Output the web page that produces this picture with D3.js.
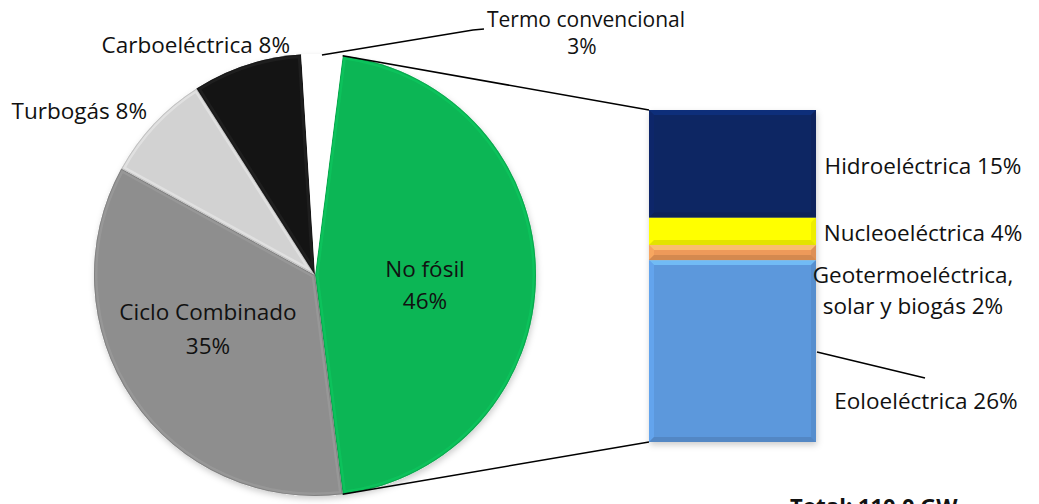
<!DOCTYPE html>
<html><head><meta charset="utf-8">
<script src="https://cdn.jsdelivr.net/npm/d3@7"></script>
<style>
html,body{margin:0;padding:0;background:#fff;overflow:hidden}
svg text{font-family:"Open Sans",Lato,sans-serif;fill:#111}
</style></head>
<body><svg id="c" width="1039" height="504"></svg>
<script>
// ---- data ----
const pieNames = ["No fósil","Ciclo Combinado","Turbogás","Carboeléctrica","Termo convencional"];
const pieValues = [46, 35, 8, 8, 3];
const pieColors = ["#0cb655","#8e8e8e","#d2d2d2","#141414","#ffffff"];
const barNames = ["Eoloeléctrica","Geotermoeléctrica, solar y biogás","Nucleoeléctrica","Hidroeléctrica"];
const barValues = [25.2, 2.1, 3.8, 14.9];
const barLabels = ["Eoloeléctrica 26%","Geotermoeléctrica,|solar y biogás 2%","Nucleoeléctrica 4%","Hidroeléctrica 15%"];
const barColors = ["#5c98dc","#ee9a5a","#ffff00","#0a2563"];
const totalLabel = "Total: 110.0 GW";

const svg = d3.select("#c");
const cx = 315, cy = 275, R = 221;
const share0 = pieValues[0] / d3.sum(pieValues);
const pie = d3.pie().sort(null).value(d => d)
  .startAngle(Math.PI/2 - share0*Math.PI)
  .endAngle(Math.PI/2 - share0*Math.PI + 2*Math.PI);
const arcs = pie(pieValues);
const arc = d3.arc().innerRadius(0).outerRadius(R);

const defs = svg.append("defs");
const fsh = defs.append("filter").attr("id","sh").attr("x","-10%").attr("y","-10%").attr("width","130%").attr("height","130%");
fsh.append("feDropShadow").attr("dx",1).attr("dy",3).attr("stdDeviation",3).attr("flood-color","#000").attr("flood-opacity",0.2);

const gp = svg.append("g").attr("transform",`translate(${cx},${cy})`);
gp.append("path").attr("d", d3.arc().innerRadius(0).outerRadius(R)({startAngle:0,endAngle:2*Math.PI}))
  .attr("fill","#fff").attr("filter","url(#sh)");
arcs.forEach((a,i) => {
  const id = "clip"+i;
  defs.append("clipPath").attr("id",id).append("path").attr("d",arc(a));
  const g = gp.append("g");
  g.append("path").attr("d",arc(a)).attr("fill",pieColors[i]);
  if (i === 4) return;
  const c = d3.color(pieColors[i]);
  g.append("path").attr("d",arc(a)).attr("clip-path",`url(#${id})`)
    .attr("fill","none").attr("stroke", c.brighter(i===3?2.5:0.5)).attr("stroke-opacity",0.35).attr("stroke-width",7);
  g.append("path").attr("d",arc(a)).attr("clip-path",`url(#${id})`)
    .attr("fill","none").attr("stroke", c.darker(0.7)).attr("stroke-opacity",0.55).attr("stroke-width",2);
});

// bar
const bx0 = 649, bx1 = 816;
const y = d3.scaleLinear().domain([0, d3.sum(barValues)]).range([442, 110]);
let acc = 0;
const gb = svg.append("g").attr("filter","url(#sh)");
const segs = barValues.map((v,i) => { const s = {i, y0: y(acc), y1: y(acc+v)}; acc += v; return s; });
segs.forEach(s => {
  const col = d3.color(barColors[s.i]);
  const h = s.y0 - s.y1;
  const bw = Math.min(5, h/3);
  gb.append("rect").attr("x",bx0).attr("y",s.y1).attr("width",bx1-bx0).attr("height",h).attr("fill",barColors[s.i]);
  gb.append("path").attr("d",`M${bx0},${s.y1}L${bx1},${s.y1}L${bx1-bw},${s.y1+bw}L${bx0+bw},${s.y1+bw}Z`).attr("fill",col.brighter(0.8)).attr("opacity",0.7);
  gb.append("path").attr("d",`M${bx0},${s.y1}L${bx0+bw},${s.y1+bw}L${bx0+bw},${s.y0-bw}L${bx0},${s.y0}Z`).attr("fill",col.brighter(0.4)).attr("opacity",0.5);
  gb.append("path").attr("d",`M${bx1},${s.y1}L${bx1-bw},${s.y1+bw}L${bx1-bw},${s.y0-bw}L${bx1},${s.y0}Z`).attr("fill",col.darker(0.4)).attr("opacity",0.5);
  gb.append("path").attr("d",`M${bx0},${s.y0}L${bx1},${s.y0}L${bx1-bw},${s.y0-bw}L${bx0+bw},${s.y0-bw}Z`).attr("fill",col.darker(0.7)).attr("opacity",0.5);
});

// connector lines from No fósil slice to bar
const a0 = arcs[0];
const pt = ang => [cx + R*Math.sin(ang), cy - R*Math.cos(ang)];
const pTop = pt(a0.startAngle), pBot = pt(a0.endAngle);
svg.append("line").attr("x1",pTop[0]).attr("y1",pTop[1]).attr("x2",bx0).attr("y2",y.range()[1]).attr("stroke","#000").attr("stroke-width",1.5);
svg.append("line").attr("x1",pBot[0]).attr("y1",pBot[1]).attr("x2",bx0).attr("y2",y.range()[0]).attr("stroke","#000").attr("stroke-width",1.5);

// leader lines
const tc = pt((arcs[4].startAngle + arcs[4].endAngle)/2);
svg.append("polyline").attr("points",`${tc[0]},${tc[1]+1} 473,30 484,29`).attr("fill","none").attr("stroke","#000").attr("stroke-width",1.5);
svg.append("line").attr("x1",bx1+1).attr("y1",352).attr("x2",925).attr("y2",378).attr("stroke","#000").attr("stroke-width",1.5);

// labels
const fs = 22.5;
function label(x, yb, txt, anchor, size){
  svg.append("text").attr("x",x).attr("y",yb).attr("text-anchor",anchor||"middle").attr("font-size",size||fs).text(txt);
}
label(586, 27, pieNames[4], "middle", 21);
label(582, 54, pieValues[4]+"%", "middle", 21);
label(290, 53, pieNames[3]+" "+pieValues[3]+"%", "end");
label(147, 119, pieNames[2]+" "+pieValues[2]+"%", "end");
label(208, 320, pieNames[1]);
label(208, 354, pieValues[1]+"%");
label(425, 277, pieNames[0]);
label(425, 309, pieValues[0]+"%");

const barLabelPos = [[926,409],[913,283],[923,241],[923,174]];
barLabels.forEach((t,i) => {
  const parts = t.split("|");
  parts.forEach((p,j) => label(barLabelPos[i][0], barLabelPos[i][1] + j*31, p));
});
svg.append("text").attr("x",790).attr("y",514).attr("font-size",22).attr("font-weight","bold").text(totalLabel);
</script></body></html>
